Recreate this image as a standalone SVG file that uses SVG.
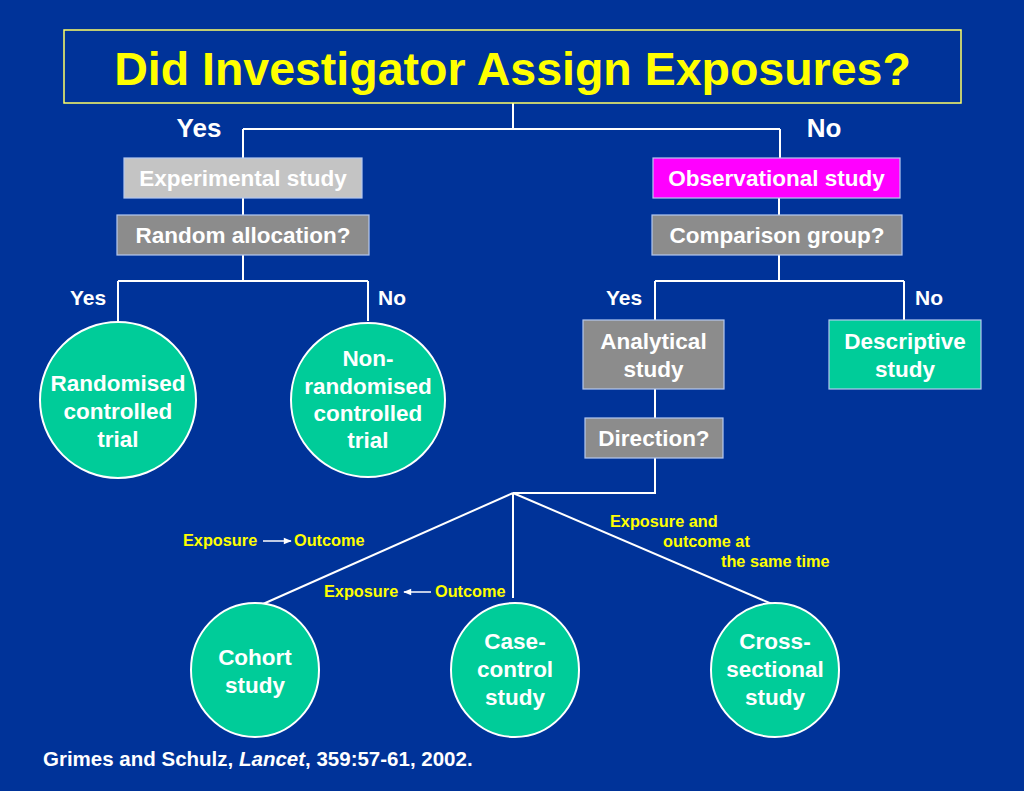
<svg xmlns="http://www.w3.org/2000/svg" width="1024" height="791" viewBox="0 0 1024 791">
<defs>
<style>
.t{font-family:"Liberation Sans",Arial,sans-serif;font-weight:bold;fill:#ffffff;text-anchor:middle}
.n{font-size:22.5px}
.yn{font-size:21px}
.lab{font-family:"Liberation Sans",Arial,sans-serif;font-weight:bold;fill:#ffff00;font-size:16.3px}
.box{stroke:#b4c8f0;stroke-width:1.2}
.gray{fill:#8c8c8c}
.teal{fill:#00cc99}
.circ{fill:#00cc99;stroke:#ffffff;stroke-width:2}
.ln{stroke:#ffffff;stroke-width:2;fill:none}
</style>
<marker id="ah" viewBox="0 0 10 10" refX="9" refY="5" markerWidth="9" markerHeight="8" orient="auto-start-reverse" markerUnits="userSpaceOnUse">
<path d="M0,1 L10,5 L0,9 z" fill="#ffffff"/>
</marker>
</defs>
<rect x="0" y="0" width="1024" height="791" fill="#003399"/>

<g id="connectors">
<path class="ln" d="M513,103 V129 M243,129 H780 M243,129 V158 M780,129 V158"/>
<path class="ln" d="M243,198 V215 M243,255 V281 M118,281 H368 M118,281 V321 M368,281 V321"/>
<path class="ln" d="M779,198 V215 M779,255 V281 M655,281 H904 M655,281 V320 M904,281 V320"/>
<path class="ln" d="M655,389 V418 M655,458 V493 H513 M513,493 L263,604 M513,493 V598 M513,493 L772,604"/>
</g>

<g id="title">
<rect x="64" y="30" width="897" height="73" fill="none" stroke="#ffff66" stroke-width="1.5"/>
<text x="512.5" y="85" font-family="'Liberation Sans',Arial,sans-serif" font-weight="bold" font-size="46.5" fill="#ffff00" text-anchor="middle">Did Investigator Assign Exposures?</text>
</g>

<g id="branch-labels">
<text class="t" x="199" y="137" font-size="26">Yes</text>
<text class="t" x="824" y="137" font-size="26">No</text>
<text class="t yn" x="88" y="305">Yes</text>
<text class="t yn" x="392" y="305">No</text>
<text class="t yn" x="624" y="305">Yes</text>
<text class="t yn" x="929" y="305">No</text>
</g>

<g id="experimental">
<rect class="box" x="124" y="158" width="238" height="40" fill="#c4c4c4"/>
<text class="t n" x="243" y="186">Experimental study</text>
</g>
<g id="random-allocation">
<rect class="box gray" x="117" y="215" width="252" height="40"/>
<text class="t n" x="243" y="243">Random allocation?</text>
</g>
<g id="observational">
<rect class="box" x="653" y="158" width="247" height="40" fill="#ff00ff"/>
<text class="t n" x="776.5" y="186">Observational study</text>
</g>
<g id="comparison-group">
<rect class="box gray" x="652" y="215" width="250" height="40"/>
<text class="t n" x="777" y="243">Comparison group?</text>
</g>
<g id="analytical">
<rect class="box gray" x="583" y="320" width="141" height="69"/>
<text class="t n" x="653.5" y="349">Analytical</text>
<text class="t n" x="653.5" y="377">study</text>
</g>
<g id="descriptive">
<rect class="box teal" x="829" y="320" width="152" height="69"/>
<text class="t n" x="905" y="349">Descriptive</text>
<text class="t n" x="905" y="377">study</text>
</g>
<g id="direction">
<rect class="box gray" x="585" y="418" width="138" height="40"/>
<text class="t n" x="654" y="446">Direction?</text>
</g>

<g id="rct">
<circle class="circ" cx="118" cy="400" r="78"/>
<text class="t n" x="118" y="391">Randomised</text>
<text class="t n" x="118" y="419">controlled</text>
<text class="t n" x="118" y="447">trial</text>
</g>
<g id="non-rct">
<circle class="circ" cx="368" cy="400" r="77"/>
<text class="t n" x="368" y="366">Non-</text>
<text class="t n" x="368" y="394">randomised</text>
<text class="t n" x="368" y="421">controlled</text>
<text class="t n" x="368" y="448">trial</text>
</g>

<g id="direction-labels">
<text class="lab" x="183" y="546">Exposure</text>
<line x1="263" y1="541" x2="291" y2="541" stroke="#ffffff" stroke-width="1.5" marker-end="url(#ah)"/>
<text class="lab" x="294" y="546">Outcome</text>
<text class="lab" x="324" y="597">Exposure</text>
<line x1="431" y1="592" x2="404" y2="592" stroke="#ffffff" stroke-width="1.5" marker-end="url(#ah)"/>
<text class="lab" x="435" y="597">Outcome</text>
<text class="lab" x="610" y="527">Exposure and</text>
<text class="lab" x="663" y="547">outcome at</text>
<text class="lab" x="721" y="567">the same time</text>
</g>

<g id="cohort">
<ellipse class="circ" cx="255" cy="670" rx="64" ry="67"/>
<text class="t n" x="255" y="665">Cohort</text>
<text class="t n" x="255" y="693">study</text>
</g>
<g id="case-control">
<ellipse class="circ" cx="515" cy="670" rx="64" ry="67"/>
<text class="t n" x="515" y="649">Case-</text>
<text class="t n" x="515" y="677">control</text>
<text class="t n" x="515" y="705">study</text>
</g>
<g id="cross-sectional">
<ellipse class="circ" cx="775" cy="670" rx="64" ry="67"/>
<text class="t n" x="775" y="649">Cross-</text>
<text class="t n" x="775" y="677">sectional</text>
<text class="t n" x="775" y="705">study</text>
</g>

<text x="43" y="766" font-family="'Liberation Sans',Arial,sans-serif" font-weight="bold" font-size="20.5" fill="#ffffff">Grimes and Schulz, <tspan font-style="italic">Lancet</tspan>, 359:57-61, 2002.</text>
</svg>
